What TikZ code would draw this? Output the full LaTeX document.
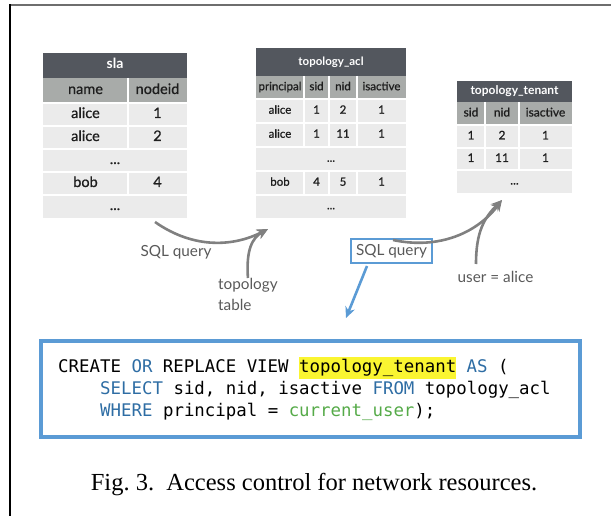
\documentclass[tikz,border=0pt]{standalone}
\usepackage{fontspec}
\setmainfont{Liberation Serif}
\newfontfamily\tabfont{Lato}
\newfontfamily\cellfont[FakeBold=0.7]{Lato}
\newfontfamily\codefont{DejaVu Sans Mono}
\usetikzlibrary{arrows.meta,positioning}

\definecolor{titlegray}{HTML}{53575E}
\definecolor{headgray}{HTML}{A8ABA9}
\definecolor{rowgray}{HTML}{EBEBEB}
\definecolor{framegray}{HTML}{6E6E6E}
\definecolor{labelgray}{HTML}{595959}
\definecolor{arrowgray}{HTML}{808080}
\definecolor{sqlblue}{HTML}{5B9BD5}
\definecolor{keyblue}{HTML}{2E6DA4}
\definecolor{codegreen}{HTML}{55AA48}
\definecolor{hlyellow}{HTML}{FAF531}
\definecolor{celltext}{HTML}{1E1E1E}

\tikzstyle{grayarrow} = [line width=2.6pt, color=arrowgray, -{Stealth[length=11pt,width=10pt]}]
\tikzstyle{bluearrow} = [line width=2.6pt, color=sqlblue, -{Stealth[length=11pt,width=10pt]}]
\tikzstyle{sep} = [white, line width=1.5pt]
\tikzstyle{slacell} = [inner sep=0pt, text=celltext, text height=10pt, text depth=3pt, font=\cellfont\fontsize{14.5}{16}\selectfont]
\tikzstyle{aclcell} = [inner sep=0pt, text=celltext, text height=8pt, text depth=2.5pt, font=\cellfont\fontsize{11.5}{13}\selectfont]
\tikzstyle{tencell} = [inner sep=0pt, text=celltext, text height=8.5pt, text depth=2.5pt, font=\cellfont\fontsize{12}{14}\selectfont]
\tikzstyle{lbl} = [inner sep=0pt, text=labelgray, font=\tabfont\fontsize{15.3}{21}\selectfont]

\newcommand{\kw}[1]{\textcolor{keyblue}{#1}}
\newcommand{\hlbox}[1]{{\fboxsep=0pt\colorbox{hlyellow}{\strut #1}}}

\begin{document}
\begin{tikzpicture}[x=1pt,y=-1pt]
\useasboundingbox (0,0) rectangle (611,516);

% page frame
\draw[line width=1.5pt, framegray] (9,5) -- (611,5);
\draw[line width=2pt, black] (10,4.25) -- (10,516);

% sla
\fill[titlegray] (43,53) rectangle (187,78);
\fill[headgray] (43,78) rectangle (187,103);
\fill[rowgray] (43,103) rectangle (187,218);
\draw[sep] (43,103) -- (187,103);
\draw[sep] (43,126) -- (187,126);
\draw[sep] (43,149) -- (187,149);
\draw[sep] (43,172) -- (187,172);
\draw[sep] (43,195) -- (187,195);
\draw[sep] (128,78) -- (128,149);
\draw[sep] (128,172) -- (128,195);

\node[slacell, text=white, font=\tabfont\bfseries\fontsize{14}{16}\selectfont] (slatitle) at (115,65.5) {sla};
\node[slacell] (slaname) at (85.5,90.5) {name};
\node[slacell] (slanode) at (157.5,90.5) {nodeid};
\node[slacell] at (85.5,114.5) {alice};
\node[slacell] at (157.5,114.5) {1};
\node[slacell] at (85.5,137.5) {alice};
\node[slacell] at (157.5,137.5) {2};
\node[slacell] at (115,160.5) {...};
\node[slacell] at (85.5,183.5) {bob};
\node[slacell] at (157.5,183.5) {4};
\node[slacell] at (115,206.5) {...};

% topology_acl
\fill[titlegray] (256,48) rectangle (406,76);
\fill[headgray] (256,76) rectangle (406,99);
\fill[rowgray] (256,99) rectangle (406,218);
\draw[sep] (256,99) -- (406,99);
\draw[sep] (256,123) -- (406,123);
\draw[sep] (256,147) -- (406,147);
\draw[sep] (256,171) -- (406,171);
\draw[sep] (256,195) -- (406,195);
\draw[sep] (304,76) -- (304,147);
\draw[sep] (329,76) -- (329,147);
\draw[sep] (357,76) -- (357,147);
\draw[sep] (304,171) -- (304,195);
\draw[sep] (329,171) -- (329,195);
\draw[sep] (357,171) -- (357,195);

\node[aclcell, text=white, font=\tabfont\bfseries\fontsize{11.5}{13}\selectfont] (acltitle) at (331,63) {topology\_acl};
\node[aclcell] at (280,87.5) {principal};
\node[aclcell] at (316.5,87.5) {sid};
\node[aclcell] at (343,87.5) {nid};
\node[aclcell] at (381.5,87.5) {isactive};
\node[aclcell] at (280,111) {alice};
\node[aclcell] at (316.5,111) {1};
\node[aclcell] at (343,111) {2};
\node[aclcell] at (381.5,111) {1};
\node[aclcell] at (280,135) {alice};
\node[aclcell] at (316.5,135) {1};
\node[aclcell] at (343,135) {11};
\node[aclcell] at (381.5,135) {1};
\node[aclcell] at (331,159) {...};
\node[aclcell] at (280,183) {bob};
\node[aclcell] at (316.5,183) {4};
\node[aclcell] at (343,183) {5};
\node[aclcell] at (381.5,183) {1};
\node[aclcell] at (331,206.5) {...};

% topology_tenant
\fill[titlegray] (457,81) rectangle (572,102);
\fill[headgray] (457,102) rectangle (572,125);
\fill[rowgray] (457,125) rectangle (572,193);
\draw[sep] (457,125) -- (572,125);
\draw[sep] (457,148) -- (572,148);
\draw[sep] (457,170) -- (572,170);
\draw[sep] (485,102) -- (485,170);
\draw[sep] (519,102) -- (519,170);

\node[tencell, text=white, font=\tabfont\bfseries\fontsize{12}{14}\selectfont] (tentitle) at (514.5,91.5) {topology\_tenant};
\node[tencell] at (471,113.5) {sid};
\node[tencell] at (502,113.5) {nid};
\node[tencell] at (545.5,113.5) {isactive};
\node[tencell] at (471,136.5) {1};
\node[tencell] at (502,136.5) {2};
\node[tencell] at (545.5,136.5) {1};
\node[tencell] at (471,159) {1};
\node[tencell] at (502,159) {11};
\node[tencell] at (545.5,159) {1};
\node[tencell] at (514.5,181.5) {...};

% labels and arrows
\node[lbl] (sqlone) at (176,252) {SQL query};
\node[lbl, align=left, anchor=north west] (toptable) at (218,278) {topology\\table};
\node[lbl, draw=sqlblue, line width=2.2pt, minimum width=81pt, minimum height=24pt] (sqltwo) at (391.5,251) {SQL query};
\node[lbl] (user) at (495.5,277) {user = alice};

\coordinate (slaout) at (155,222);
\coordinate (aclin) at (268,229);
\coordinate (aclout) at (393,240);
\coordinate (tenantin) at (502,200);
\coordinate (userup) at (476,264);
\coordinate (sqlfoot) at (367,266);
\coordinate (codein) at (346,318);

\draw[grayarrow] (slaout) .. controls (195,250) and (235,246) .. (aclin);
\draw[grayarrow] (toptable.north) .. controls (246,250) and (252,238) .. (aclin);
\draw[grayarrow] (aclout) .. controls (440,250) and (478,232) .. (tenantin);
\draw[grayarrow] (userup) .. controls (476,232) and (484,218) .. (tenantin);
\draw[bluearrow] (sqlfoot) -- (codein);

% view definition
\draw[sqlblue, line width=3.5pt] (41,341) rectangle (580,437);
\node[inner sep=0pt, anchor=base west, font=\codefont\fontsize{17.4}{22}\selectfont] (codea) at (58,372)
  {CREATE \kw{OR} REPLACE VIEW \hlbox{topology\_tenant} \kw{AS} (};
\node[inner sep=0pt, anchor=base west, font=\codefont\fontsize{17.4}{22}\selectfont] (codeb) at (100,394)
  {\kw{SELECT} sid, nid, isactive \kw{FROM} topology\_acl};
\node[inner sep=0pt, anchor=base west, font=\codefont\fontsize{17.4}{22}\selectfont] (codec) at (100,416)
  {\kw{WHERE} principal = \textcolor{codegreen}{current\_user});};

\node[font=\fontsize{24.5}{28}\selectfont] (caption) at (314,485) {Fig.~3.\hspace{0.5em}Access control for network resources.};
\end{tikzpicture}
\end{document}
